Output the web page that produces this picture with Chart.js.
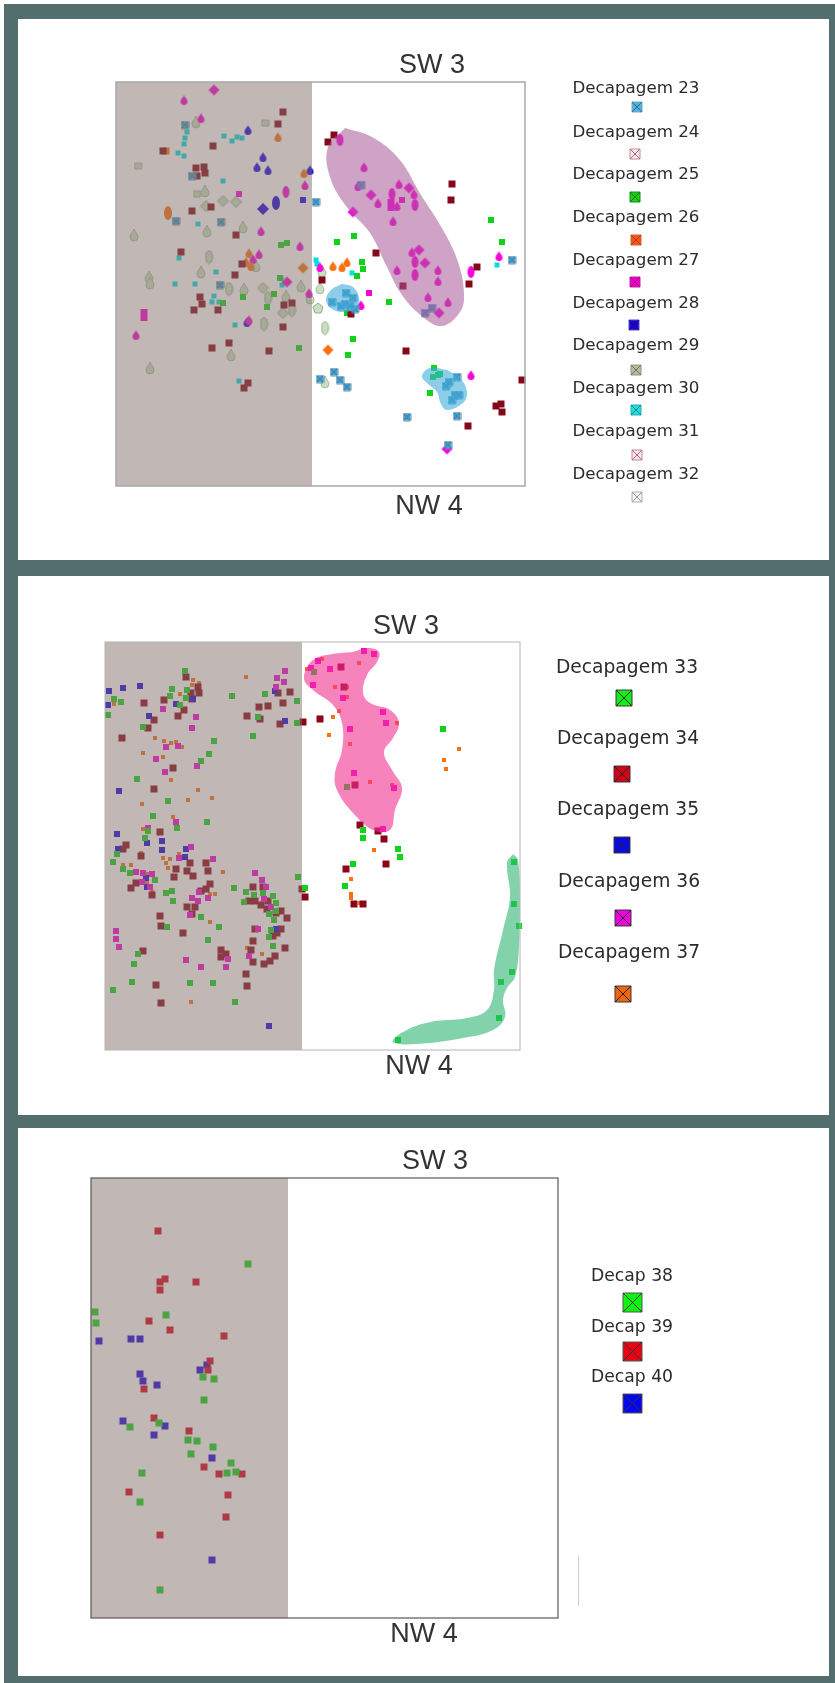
<!DOCTYPE html>
<html>
<head>
<meta charset="utf-8">
<title>Decapagens</title>
<script src="https://cdn.jsdelivr.net/npm/chart.js@4"></script>
<style>
    html, body { margin: 0; padding: 0; background: #fff; }
    #stage { position: relative; width: 835px; height: 1683px; overflow: hidden; }
    #frame { position: absolute; left: 4px; top: 4px; right: 0; bottom: 0; background: #526f6e; }
    .panel { position: absolute; left: 18px; width: 811px; background: #fff; }
    .panel canvas.plot { position: absolute; left: 0; top: 0; filter: blur(0.4px); }
    .txt { position: absolute; transform: translate(-50%, -50%); white-space: nowrap; color: #2b2b2b; }
    .side { font-family: "Liberation Sans", Arial, sans-serif; font-size: 27px; color: #333; }
    .leg { font-family: "DejaVu Sans", sans-serif; }
    .swatch { position: absolute; }
</style>
</head>
<body>
<div id="stage">
    <div id="frame"></div>
    <div class="panel" id="p1" style="top:19px;height:541px"></div>
    <div class="panel" id="p2" style="top:576px;height:539px"></div>
    <div class="panel" id="p3" style="top:1128px;height:548px"></div>
    <div style="position:absolute;left:578px;top:1556px;width:1px;height:50px;background:#ccc"></div>
</div>

<script>
// ---- Panel 1 (Decapagem 23 - 32), values are positions on the excavation grid
const dec23 = [[69,43],[76,94],[60,139],[105,140],[104,203],[200,120],[245,103],[396,178],[309,231],[316,226],[218,290],[204,297],[224,298],[231,305],[291,335],[341,334],[332,363],[230,211],[216,220],[225,224],[229,222],[237,216],[234,224],[239,227],[341,295],[333,300],[330,304],[339,313],[343,313],[336,318]];
const dec24 = [[167,30],[162,42],[97,64],[47,69],[80,86],[88,85],[89,91],[81,94],[95,125],[76,129],[120,153],[65,170],[126,182],[119,193],[84,215],[86,222],[78,228],[102,228],[168,223],[176,221],[167,245],[113,261],[96,266],[153,269],[132,301],[128,306],[218,53],[212,60],[336,102],[335,118],[260,171],[361,185],[206,198],[287,204],[353,202],[235,232],[290,269],[406,298],[385,322],[380,324],[386,330],[352,344]];
const dec25 = [[165,163],[171,161],[164,196],[107,221],[127,215],[158,212],[151,225],[183,266],[375,138],[386,160],[221,160],[238,154],[246,180],[247,187],[241,194],[273,220],[231,231],[237,257],[232,273],[314,311],[318,286],[317,295],[324,292],[322,293]];
const dec26Square = [[50,69]];
const dec26Drop = [[162,55],[188,91],[133,171],[130,180],[135,184],[217,184],[226,185],[231,180]];
const dec26Ellipse = [[52,131]];
const dec26Diamond = [[187,186],[212,268]];
const dec27Drop = [[68,18],[85,36],[189,103],[145,149],[184,164],[143,172],[137,177],[20,253],[133,238],[193,211],[248,85],[242,104],[262,121],[281,124],[283,102],[298,112],[277,139],[296,170],[281,188],[322,188],[322,199],[312,215],[332,220],[383,174],[245,223],[355,293],[204,185]];
const dec27Ellipse = [[170,110],[224,58],[276,112],[299,123],[299,180],[299,193],[355,190]];
const dec27Diamond = [[98,8],[171,200],[255,113],[237,130],[293,106],[303,168],[309,181],[323,231],[331,367]];
const dec27Square = [[123,112],[286,118],[253,211]];
const dec27Tall = [[28,233],[275,123]];
const dec28Drop = [[132,48],[147,75],[141,85],[152,88],[194,88],[131,240]];
const dec28Ellipse = [[160,121]];
const dec28Diamond = [[147,127]];
const dec28Square = [[187,118]];
const dec29Drop = [[80,40],[89,109],[91,149],[127,145],[18,153],[85,190],[33,195],[140,184],[34,201],[128,207],[170,214],[185,204],[194,216],[115,273],[34,286],[204,206],[209,300],[206,189]];
const dec29Ellipse = [[93,175],[113,207],[152,216],[176,228],[148,242],[209,246]];
const dec29Diamond = [[107,119],[120,120],[90,124],[147,206],[167,231]];
const dec29Square = [[149,41],[22,84],[81,112]];
const dec29Pentagon = [[202,226]];
const dec30 = [[71,50],[69,56],[68,62],[62,71],[68,74],[108,54],[116,59],[121,55],[126,56],[107,99],[82,142],[63,176],[100,190],[59,202],[79,202],[98,214],[96,220],[103,220],[119,243],[123,299],[165,196],[166,203],[200,178],[201,182],[236,191],[381,183]];
const blobPlum = [[229,46],[256,55],[283,77],[305,113],[327,148],[342,180],[348,212],[344,230],[326,244],[307,235],[286,213],[270,183],[254,151],[230,124],[214,95],[212,65],[229,46]];
const blobBlueSmall = [[226,202],[237,205],[243,216],[241,226],[229,230],[216,227],[210,218],[215,208],[226,202]];
const blobBlueLow = [[331,288],[344,296],[351,310],[347,321],[331,328],[325,322],[321,310],[311,301],[306,294],[314,286],[331,288]];

// ---- Panel 2 (Decapagem 33 - 37)
const dec33 = [[80,29],[67,47],[82,48],[65,54],[81,56],[75,63],[127,54],[160,52],[192,59],[153,75],[192,81],[148,94],[9,57],[16,60],[3,73],[38,85],[109,99],[104,112],[96,119],[32,137],[63,159],[48,174],[102,180],[72,186],[43,189],[40,196],[12,212],[8,220],[18,227],[25,231],[50,238],[61,251],[67,249],[68,259],[96,275],[62,285],[114,285],[103,298],[129,246],[141,250],[149,253],[158,251],[139,260],[168,254],[171,261],[171,269],[164,272],[169,278],[166,288],[164,295],[168,304],[33,312],[29,322],[27,340],[8,348],[85,341],[108,341],[130,360],[193,235],[200,246],[209,30],[242,145],[338,87],[258,188],[258,196],[293,207],[295,215],[248,222],[240,244],[409,220],[409,262],[414,284],[407,330],[396,340],[394,376],[293,398]];
const dec34 = [[81,35],[93,45],[94,51],[86,51],[87,57],[59,58],[39,61],[79,68],[73,74],[49,78],[43,86],[17,96],[68,126],[49,147],[55,190],[185,50],[173,51],[178,61],[163,64],[154,65],[142,74],[155,77],[175,82],[198,80],[21,203],[18,207],[36,214],[85,221],[101,221],[71,227],[82,229],[103,229],[69,235],[88,234],[31,241],[26,246],[47,253],[105,242],[101,247],[96,249],[82,265],[90,265],[87,272],[55,274],[56,284],[78,291],[38,309],[51,343],[56,361],[148,245],[158,245],[144,259],[150,259],[156,263],[163,259],[162,267],[176,269],[182,276],[171,271],[150,287],[176,287],[172,291],[168,294],[148,299],[146,308],[180,306],[170,314],[165,319],[159,322],[148,320],[116,308],[116,315],[121,312],[141,332],[142,344],[236,25],[239,45],[215,77],[250,143],[255,183],[273,189],[279,197],[281,222],[241,227],[249,262],[258,262],[197,247],[200,255]];
const dec35 = [[4,49],[18,46],[35,44],[3,63],[44,74],[71,62],[88,57],[170,49],[180,79],[14,149],[12,192],[57,199],[13,207],[42,201],[57,208],[81,207],[80,215],[41,236],[42,245],[171,287],[164,384]];
const dec36 = [[58,67],[91,75],[87,86],[61,105],[73,104],[51,117],[60,130],[92,124],[71,180],[43,186],[180,29],[172,36],[179,40],[171,45],[86,205],[74,216],[108,217],[31,230],[38,231],[47,232],[37,240],[45,245],[94,250],[87,256],[93,259],[103,256],[85,273],[150,231],[157,238],[161,245],[159,257],[166,265],[153,287],[11,289],[11,297],[14,305],[81,318],[123,317],[121,325],[96,325],[144,314],[259,9],[269,12],[213,19],[206,26],[225,27],[208,43],[238,56],[278,70],[281,81],[245,87],[249,131],[289,146],[278,187]];
const dec37 = [[88,38],[94,41],[87,43],[75,52],[9,62],[141,35],[50,96],[59,99],[66,101],[71,100],[77,105],[38,111],[58,115],[66,138],[93,148],[107,156],[83,158],[37,162],[68,175],[38,187],[16,97],[58,208],[58,216],[65,217],[74,212],[26,223],[18,223],[36,211],[61,221],[63,226],[118,230],[42,232],[42,240],[47,250],[105,252],[110,252],[105,280],[157,312],[142,306],[86,360],[217,17],[202,27],[254,21],[230,45],[242,45],[242,55],[234,69],[228,75],[224,93],[292,81],[245,102],[265,140],[287,143],[354,107],[339,118],[341,127],[269,208],[246,237],[246,252],[246,256],[255,261]];
const blobPink = [[248,10],[263,6],[274,10],[272,20],[262,33],[258,51],[265,61],[285,68],[294,81],[288,96],[279,110],[287,128],[297,146],[290,168],[285,188],[268,188],[248,171],[232,148],[230,131],[237,108],[237,81],[228,63],[208,48],[199,36],[208,18],[228,12],[248,10]];
const blobGreen = [[408,212],[413,218],[415,255],[414,305],[410,335],[402,346],[398,358],[400,375],[388,388],[358,396],[312,402],[288,400],[298,390],[325,380],[362,376],[382,368],[389,348],[389,328],[398,288],[405,255],[402,221],[408,212]];

// ---- Panel 3 (Decap 38 - 40)
const dec38 = [[157,86],[4,134],[5,145],[75,137],[112,199],[123,201],[113,222],[39,249],[68,245],[97,262],[106,263],[122,269],[100,276],[140,285],[136,295],[145,294],[51,295],[49,324],[69,412]];
const dec39 = [[67,53],[74,101],[69,104],[69,112],[105,104],[58,143],[79,152],[133,158],[119,183],[117,192],[53,211],[63,240],[98,253],[113,289],[128,296],[151,296],[38,314],[137,317],[135,339],[69,357]];
const dec40 = [[8,163],[40,161],[49,161],[49,196],[52,203],[66,207],[109,192],[116,187],[32,243],[74,248],[63,257],[121,280],[121,382]];

// legends
const legendA = ['Decapagem 23','Decapagem 24','Decapagem 25','Decapagem 26','Decapagem 27','Decapagem 28','Decapagem 29','Decapagem 30','Decapagem 31','Decapagem 32'];
const legendAColors = ['#4fb4dc','#fbeef0','#1fd00f','#f0560f','#f000c4','#2200cc','#b4bc9c','#22dcdc','#fbeaec','#f2f2f2'];
const legendB = ['Decapagem 33','Decapagem 34','Decapagem 35','Decapagem 36','Decapagem 37'];
const legendBColors = ['#14ee14','#d40016','#0808e8','#f000e0','#f0640c'];
const legendC = ['Decap 38','Decap 39','Decap 40'];
const legendCColors = ['#0cf40c','#e80014','#0404f0'];

const GREY_SHADE = 'rgba(134,115,110,0.51)';

// draws the little markers used as pointStyle and in the legends
function makeMarker(shape, w, h, fill, line, cross) {
    const c = document.createElement('canvas');
    c.width = w + 2;
    c.height = h + 2;
    const g = c.getContext('2d');
    g.translate(1, 1);
    g.fillStyle = fill;
    g.strokeStyle = line || fill;
    g.lineWidth = 1;
    g.beginPath();
    if (shape === 'drop') {
        g.moveTo(w / 2, 0);
        g.bezierCurveTo(w * 0.6, h * 0.25, w, h * 0.4, w, h * 0.66);
        g.arc(w / 2, h * 0.66, w / 2, 0, Math.PI);
        g.bezierCurveTo(0, h * 0.4, w * 0.4, h * 0.25, w / 2, 0);
    } else if (shape === 'ellipse') {
        g.ellipse(w / 2, h / 2, w / 2, h / 2, 0, 0, Math.PI * 2);
    } else if (shape === 'diamond') {
        g.moveTo(w / 2, 0);
        g.lineTo(w, h / 2);
        g.lineTo(w / 2, h);
        g.lineTo(0, h / 2);
        g.closePath();
    } else if (shape === 'pentagon') {
        g.moveTo(w / 2, 0);
        g.lineTo(w, h * 0.4);
        g.lineTo(w * 0.8, h);
        g.lineTo(w * 0.2, h);
        g.lineTo(0, h * 0.4);
        g.closePath();
    } else {
        g.rect(0, 0, w, h);
    }
    g.fill();
    if (line) g.stroke();
    if (cross) {
        g.strokeStyle = cross;
        g.beginPath();
        g.moveTo(0, 0);
        g.lineTo(w, h);
        g.moveTo(w, 0);
        g.lineTo(0, h);
        g.stroke();
    }
    return c;
}

function pts(arr) {
    return arr.map(p => ({ x: p[0], y: p[1] }));
}

function pointSet(label, arr, marker) {
    return { label, data: pts(arr), showLine: false, pointStyle: marker, pointRadius: 4, clip: false, order: 2 };
}

function blobSet(label, arr, color) {
    return { label, data: pts(arr), showLine: true, fill: 'shape', backgroundColor: color, borderWidth: 0, borderColor: 'transparent', pointRadius: 0, tension: 0.4, order: 1 };
}

// grey half of the excavation and the square frame
const shadePlugin = {
    id: 'shade',
    afterDatasetsDraw(chart, args, opts) {
        const { ctx, chartArea: a, scales: { x } } = chart;
        ctx.save();
        ctx.fillStyle = GREY_SHADE;
        ctx.fillRect(a.left, a.top, x.getPixelForValue(opts.end) - a.left, a.bottom - a.top);
        ctx.strokeStyle = opts.frame;
        ctx.lineWidth = opts.frameWidth;
        ctx.strokeRect(a.left, a.top, a.right - a.left, a.bottom - a.top);
        ctx.restore();
    }
};

function makeChart(panelId, box, xMax, yMax, datasets, shadeEnd, frame, frameWidth) {
    const panel = document.getElementById(panelId);
    const cv = document.createElement('canvas');
    cv.className = 'plot';
    cv.width = panel.offsetWidth;
    cv.height = panel.offsetHeight;
    panel.appendChild(cv);
    return new Chart(cv.getContext('2d'), {
        type: 'line',
        data: { datasets },
        plugins: [shadePlugin],
        options: {
            responsive: false,
            animation: false,
            layout: { padding: { left: box.left, top: box.top, right: cv.width - box.left - box.width, bottom: cv.height - box.top - box.height } },
            plugins: {
                legend: { display: false },
                tooltip: { enabled: false },
                shade: { end: shadeEnd, frame, frameWidth }
            },
            scales: {
                x: { type: 'linear', min: 0, max: xMax, display: false },
                y: { type: 'linear', min: 0, max: yMax, reverse: true, display: false }
            }
        }
    });
}

function addText(panelId, cls, text, x, y, size) {
    const d = document.createElement('div');
    d.className = 'txt ' + cls;
    d.textContent = text;
    d.style.left = x + 'px';
    d.style.top = y + 'px';
    if (size) d.style.fontSize = size + 'px';
    document.getElementById(panelId).appendChild(d);
}

function addLegend(panelId, labels, colors, textXY, swatchXY, fontSize, swatchSize, border, cross) {
    labels.forEach((lab, i) => {
        addText(panelId, 'leg', lab, textXY[i][0], textXY[i][1], fontSize);
        const s = makeMarker('rect', swatchSize, swatchSize, colors[i], border[i] || border[0], cross[i] || cross[0]);
        s.className = 'swatch';
        s.style.left = (swatchXY[i][0] - swatchSize / 2 - 1) + 'px';
        s.style.top = (swatchXY[i][1] - swatchSize / 2 - 1) + 'px';
        document.getElementById(panelId).appendChild(s);
    });
}

// marker colours
const TEAL = '#4aa8d4', DARKRED = '#85081a', GREEN = '#10d41a', ORANGE = '#f87010', MAG = '#f804d8', BLUE = '#1800e0', SAGE = '#c6e0c0', CYAN = '#00dce4';

document.addEventListener('DOMContentLoaded', () => {
    // panel 1
    makeChart('p1', { left: 98, top: 63, width: 409, height: 404 }, 409, 404, [
        blobSet('blob plum', blobPlum, 'rgba(167,87,149,0.55)'),
        blobSet('blob blue', blobBlueSmall, 'rgba(63,172,220,0.6)'),
        blobSet('blob blue 2', blobBlueLow, 'rgba(63,172,220,0.6)'),
        pointSet('Decapagem 23', dec23, makeMarker('rect', 7, 7, TEAL, '#5b93b4', '#2f6f96')),
        pointSet('Decapagem 24', dec24, makeMarker('rect', 7, 7, DARKRED)),
        pointSet('Decapagem 25', dec25, makeMarker('rect', 6, 6, GREEN)),
        pointSet('Decapagem 26', dec26Square, makeMarker('rect', 7, 7, ORANGE)),
        pointSet('Decapagem 26', dec26Drop, makeMarker('drop', 7, 10, ORANGE)),
        pointSet('Decapagem 26', dec26Ellipse, makeMarker('ellipse', 8, 14, ORANGE)),
        pointSet('Decapagem 26', dec26Diamond, makeMarker('diamond', 11, 11, ORANGE)),
        pointSet('Decapagem 27', dec27Drop, makeMarker('drop', 7, 10, MAG)),
        pointSet('Decapagem 27', dec27Ellipse, makeMarker('ellipse', 7, 12, MAG)),
        pointSet('Decapagem 27', dec27Diamond, makeMarker('diamond', 11, 11, MAG)),
        pointSet('Decapagem 27', dec27Square, makeMarker('rect', 6, 6, MAG)),
        pointSet('Decapagem 27', dec27Tall, makeMarker('rect', 7, 12, MAG)),
        pointSet('Decapagem 28', dec28Drop, makeMarker('drop', 7, 10, BLUE)),
        pointSet('Decapagem 28', dec28Ellipse, makeMarker('ellipse', 8, 14, BLUE)),
        pointSet('Decapagem 28', dec28Diamond, makeMarker('diamond', 12, 12, BLUE)),
        pointSet('Decapagem 28', dec28Square, makeMarker('rect', 6, 6, BLUE)),
        pointSet('Decapagem 29', dec29Drop, makeMarker('drop', 8, 12, SAGE, '#a8b8a0')),
        pointSet('Decapagem 29', dec29Ellipse, makeMarker('ellipse', 7, 13, SAGE, '#98a890')),
        pointSet('Decapagem 29', dec29Diamond, makeMarker('diamond', 11, 11, SAGE, '#98a890')),
        pointSet('Decapagem 29', dec29Square, makeMarker('rect', 7, 6, SAGE, '#a8b8a0')),
        pointSet('Decapagem 29', dec29Pentagon, makeMarker('pentagon', 10, 10, SAGE, '#98a890')),
        pointSet('Decapagem 30', dec30, makeMarker('rect', 5, 5, CYAN))
    ], 196, '#a8a8a8', 1.5);

    // panel 2
    makeChart('p2', { left: 87, top: 66, width: 415, height: 408 }, 415, 408, [
        blobSet('blob pink', blobPink, 'rgba(242,48,145,0.6)'),
        blobSet('blob green', blobGreen, 'rgba(47,182,115,0.6)'),
        pointSet('Decapagem 33', dec33, makeMarker('rect', 6, 6, GREEN)),
        pointSet('Decapagem 36', dec36, makeMarker('rect', 6, 6, MAG)),
        pointSet('Decapagem 35', dec35, makeMarker('rect', 6, 6, BLUE)),
        pointSet('Decapagem 34', dec34, makeMarker('rect', 7, 7, '#8c0418')),
        pointSet('Decapagem 37', dec37, makeMarker('rect', 4, 4, ORANGE))
    ], 197, '#b4b4b4', 1);

    // panel 3
    makeChart('p3', { left: 73, top: 50, width: 467, height: 440 }, 467, 440, [
        pointSet('Decap 38', dec38, makeMarker('rect', 7, 7, GREEN)),
        pointSet('Decap 39', dec39, makeMarker('rect', 7, 7, '#d80018')),
        pointSet('Decap 40', dec40, makeMarker('rect', 7, 7, BLUE))
    ], 197, '#5f5555', 1.2);

    // axis names
    addText('p1', 'side', 'SW 3', 414, 45);
    addText('p1', 'side', 'NW 4', 411, 486);
    addText('p2', 'side', 'SW 3', 388, 49);
    addText('p2', 'side', 'NW 4', 401, 489);
    addText('p3', 'side', 'SW 3', 417, 32);
    addText('p3', 'side', 'NW 4', 406, 505);

    // legends (positions relative to each white panel)
    addLegend('p1', legendA, legendAColors,
        [[618,68],[618,112],[618,154],[618,197],[618,240],[618,283],[618,325],[618,368],[618,411],[618,454]],
        [[619,88],[617,135],[617,178],[618,221],[617,263],[616,306],[618,351],[618,391],[619,436],[619,478]],
        16.7, 10, ['#7aa0b8','#c08a98','#1a8a20','#d06030','#c020a0','#5050c0','#909880','#30a8b0','#c08a98','#b0b0b0'],
        ['#2a6a90','#c06070','#0a7a10','#b04010','#a00090','#1000a0','#6f7860','#109098','#c06070','#999999']);
    addLegend('p2', legendB, legendBColors,
        [[609,90],[610,161],[610,232],[611,304],[611,375]],
        [[606,122],[604,198],[604,269],[605,342],[605,418]],
        18.7, 16, ['#3a3a3a'], ['#222222']);
    addLegend('p3', legendC, legendCColors,
        [[614,147],[614,198],[614,248]],
        [[614,174],[614,223],[614,275]],
        17.2, 19, ['#555555'], ['#333333']);
});
</script>
</body>
</html>
